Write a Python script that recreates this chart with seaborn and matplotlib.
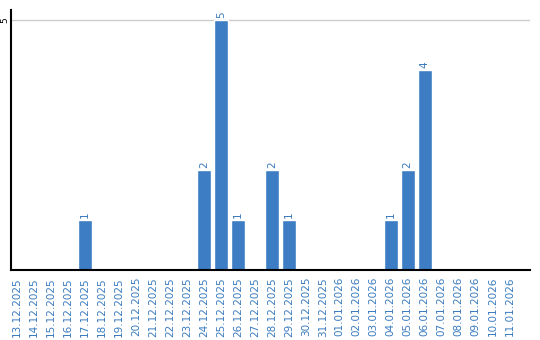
import matplotlib
matplotlib.use("Agg")
import matplotlib.pyplot as plt
import seaborn as sns
import pandas as pd

dates = ["13.12.2025", "14.12.2025", "15.12.2025", "16.12.2025", "17.12.2025",
         "18.12.2025", "19.12.2025", "20.12.2025", "21.12.2025", "22.12.2025",
         "23.12.2025", "24.12.2025", "25.12.2025", "26.12.2025", "27.12.2025",
         "28.12.2025", "29.12.2025", "30.12.2025", "31.12.2025", "01.01.2026",
         "02.01.2026", "03.01.2026", "04.01.2026", "05.01.2026", "06.01.2026",
         "07.01.2026", "08.01.2026", "09.01.2026", "10.01.2026", "11.01.2026"]
counts = [0, 0, 0, 0, 1, 0, 0, 0, 0, 0,
          0, 2, 5, 1, 0, 2, 1, 0, 0, 0,
          0, 0, 1, 2, 4, 0, 0, 0, 0, 0]
y_ticks = [5]

bar_color = "#3c7dc4"
text_color = "#3a7bbf"

sns.set_theme(style="white")
plt.rcParams['font.family'] = ['DejaVu Sans']

df = pd.DataFrame({"date": dates, "count": counts})

fig = plt.figure(figsize=(5.4, 3.4), dpi=100)
ax = fig.add_axes([11/540, 70/340, (530-11)/540, 260/340])

sns.barplot(data=df, x="date", y="count", color=bar_color, saturation=1,
            width=0.82, ax=ax)

for i, v in enumerate(counts):
    if v > 0:
        ax.text(i, v + 0.04, str(v), rotation=90, ha="center", va="bottom",
                color=text_color, fontsize=7.5)

ax.set_xlim(-0.35, 30.2)
ax.set_ylim(0, 5.2)
ax.set_yticks(y_ticks)
ax.set_yticklabels([str(t) for t in y_ticks], rotation=90, va="center",
                   fontsize=6.5, color="black")
ax.yaxis.grid(True, color="#cccccc", linewidth=1)
ax.xaxis.grid(False)
ax.set_axisbelow(True)
ax.tick_params(axis="x", rotation=90, labelsize=7.5, labelcolor=text_color,
               length=0, pad=5)
ax.tick_params(axis="y", length=0, pad=1.5)
ax.set_xlabel("")
ax.set_ylabel("")
for s in ["top", "right"]:
    ax.spines[s].set_visible(False)
for s in ["left", "bottom"]:
    ax.spines[s].set_color("black")
    ax.spines[s].set_linewidth(1.5)

fig.savefig("out.png", dpi=100)
